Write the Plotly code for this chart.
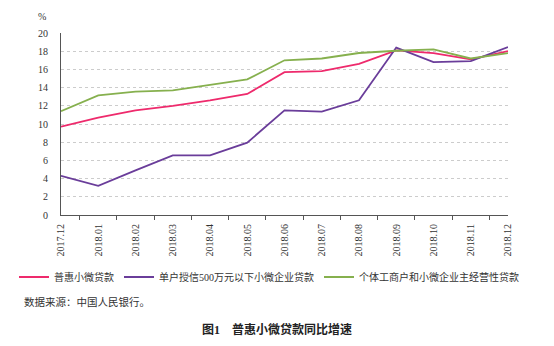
import plotly.graph_objects as go

# 月份类别
months = ["2017.12", "2018.01", "2018.02", "2018.03", "2018.04", "2018.05", "2018.06",
          "2018.07", "2018.08", "2018.09", "2018.10", "2018.11", "2018.12"]

# 同比增速（%）
puhui = [9.7, 10.7, 11.5, 12.0, 12.6, 13.3, 15.7, 15.8, 16.6, 18.1, 17.8, 17.1, 18.0]
danhu500 = [4.3, 3.2, 4.9, 6.55, 6.55, 7.95, 11.5, 11.35, 12.6, 18.4, 16.8, 16.9, 18.45]
getihu = [11.4, 13.15, 13.55, 13.7, 14.3, 14.9, 17.0, 17.2, 17.8, 18.05, 18.2, 17.2, 17.8]

y_ticks = list(range(0, 21, 2))

series = [
    ("普惠小微贷款", puhui, "#ee2a6c"),
    ("单户授信500万元以下小微企业贷款", danhu500, "#6a3d9a"),
    ("个体工商户和小微企业主经营性贷款", getihu, "#86b04e"),
]

serif = "Liberation Serif, Noto Sans CJK SC, serif"

W, H = 554, 346
ML, MR, MT, MB = 61, 46, 33, 131
pw, ph = W - ML - MR, H - MT - MB


def px_to_paper(xp, yp):
    """像素位置换算为纸面坐标"""
    return (xp - ML) / pw, (H - MB - yp) / ph


fig = go.Figure()
for name, vals, color in series:
    fig.add_trace(go.Scatter(
        x=months, y=vals, name=name, mode="lines",
        line=dict(color=color, width=1.8),
    ))

pct_x, pct_y = px_to_paper(42, 16)
src_x, src_y = px_to_paper(22, 302)
ttl_x, ttl_y = px_to_paper(277, 329)
leg_x, leg_y = px_to_paper(14, 277)

fig.update_layout(
    width=W, height=H,
    margin=dict(l=ML, r=MR, t=MT, b=MB),
    paper_bgcolor="white", plot_bgcolor="white",
    font=dict(family=serif, size=10, color="#333333"),
    showlegend=True,
    legend=dict(
        orientation="h", x=leg_x, y=leg_y, xanchor="left", yanchor="middle",
        font=dict(family=serif, size=10, color="#333333"),
        itemwidth=30, bgcolor="rgba(0,0,0,0)", tracegroupgap=0,
    ),
    xaxis=dict(
        type="category", tickangle=-90,
        showline=True, linecolor="#555555", linewidth=1,
        ticks="outside", tickson="boundaries", ticklen=4, tickcolor="#555555",
        showgrid=False, tickfont=dict(family=serif, size=10, color="#333333"),
        ticklabelstandoff=4,
    ),
    yaxis=dict(
        range=[0, 20], tickvals=y_ticks,
        showline=True, linecolor="#555555", linewidth=1,
        showgrid=True, gridcolor="#cccccc", griddash="dot", gridwidth=1,
        zeroline=False, ticks="", ticklabelstandoff=10,
        tickfont=dict(family=serif, size=10, color="#333333"),
    ),
    annotations=[
        dict(text="%", x=pct_x, y=pct_y, xref="paper", yref="paper", showarrow=False,
             font=dict(size=10, color="#333333"), xanchor="center", yanchor="middle"),
        dict(text="数据来源：中国人民银行。", x=src_x, y=src_y, xref="paper", yref="paper",
             showarrow=False, font=dict(size=10.5, color="#333333"),
             xanchor="left", yanchor="middle"),
        dict(text="<b>图1　普惠小微贷款同比增速</b>", x=ttl_x, y=ttl_y,
             xref="paper", yref="paper", showarrow=False,
             font=dict(size=12, color="#222222"),
             xanchor="center", yanchor="middle"),
    ],
)

fig.write_html("out.html")
